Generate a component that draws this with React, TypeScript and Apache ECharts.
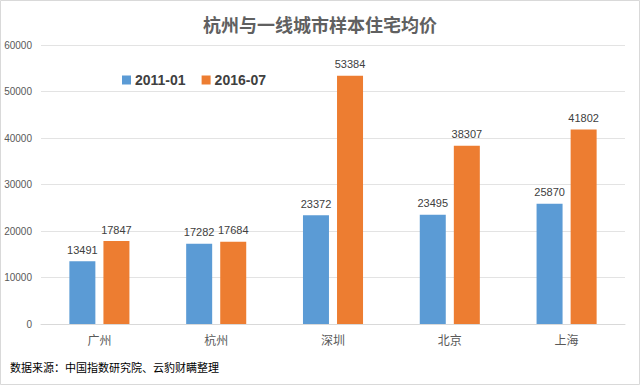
import React, { useEffect, useRef } from "react";
import * as echarts from "echarts";

const categories = ["广州", "杭州", "深圳", "北京", "上海"];
const series2011 = [13491, 17282, 23372, 23495, 25870];
const series2016 = [17847, 17684, 53384, 38307, 41802];
const seriesNames = ["2011-01", "2016-07"];
const titleText = "杭州与一线城市样本住宅均价";
const sourceText = "数据来源：中国指数研究院、云豹财瞒整理";

const CJK = "'Noto Sans CJK SC', 'Liberation Sans', sans-serif";

export default function App() {
  const ref = useRef<HTMLDivElement>(null);
  useEffect(() => {
    document.body.style.margin = "0";
    if (!ref.current) return;
    const chart = echarts.init(ref.current, undefined, { renderer: "svg" });
    const labelStyle = {
      show: true,
      position: "top" as const,
      distance: 6,
      fontSize: 11,
      color: "#404040",
      fontFamily: "'Liberation Sans', sans-serif",
    };
    chart.setOption({
      animation: false,
      backgroundColor: "#ffffff",
      title: {
        text: titleText,
        left: "center",
        top: 10,
        textStyle: { fontSize: 18, fontWeight: "bold", color: "#606060", fontFamily: CJK },
      },
      legend: {
        left: 117,
        top: 68,
        icon: "rect",
        itemWidth: 9,
        itemHeight: 9,
        itemGap: 16,
        data: seriesNames,
        textStyle: { fontSize: 14, fontWeight: "bold", color: "#404040", fontFamily: "'Liberation Sans', sans-serif", padding: [0, 0, 0, -1] },
      },
      grid: { left: 41, right: 15, top: 45, bottom: 61, containLabel: false },
      xAxis: {
        type: "category",
        data: categories,
        axisLine: { lineStyle: { color: "#d9d9d9" } },
        axisTick: { show: false },
        axisLabel: { fontSize: 12, color: "#595959", margin: 9, fontFamily: CJK },
      },
      yAxis: {
        type: "value",
        min: 0,
        max: 60000,
        interval: 10000,
        axisLine: { show: false },
        axisTick: { show: false },
        splitLine: { lineStyle: { color: "#e3e3e3", width: 1 } },
        axisLabel: {
          fontSize: 10,
          color: "#595959",
          margin: 9,
          fontFamily: "'Liberation Sans', sans-serif",
          formatter: (v: number) => String(v),
        },
      },
      series: [
        {
          name: seriesNames[0],
          type: "bar",
          data: series2011,
          barWidth: 26,
          barGap: "31%",
          itemStyle: { color: "#5B9BD5" },
          label: labelStyle,
        },
        {
          name: seriesNames[1],
          type: "bar",
          data: series2016,
          barWidth: 26,
          itemStyle: { color: "#ED7D31" },
          label: labelStyle,
        },
      ],
      graphic: [
        {
          type: "rect",
          shape: { x: 0.5, y: 0.5, width: 639, height: 384 },
          style: { fill: "none", stroke: "#d9d9d9", lineWidth: 1 },
          silent: true,
        },
        {
          type: "text",
          left: 10,
          top: 361,
          style: { text: sourceText, fontSize: 11, fill: "#000000", fontFamily: CJK },
        },
      ],
    });
    return () => chart.dispose();
  }, []);
  return <div ref={ref} style={{ width: 640, height: 385 }} />;
}
